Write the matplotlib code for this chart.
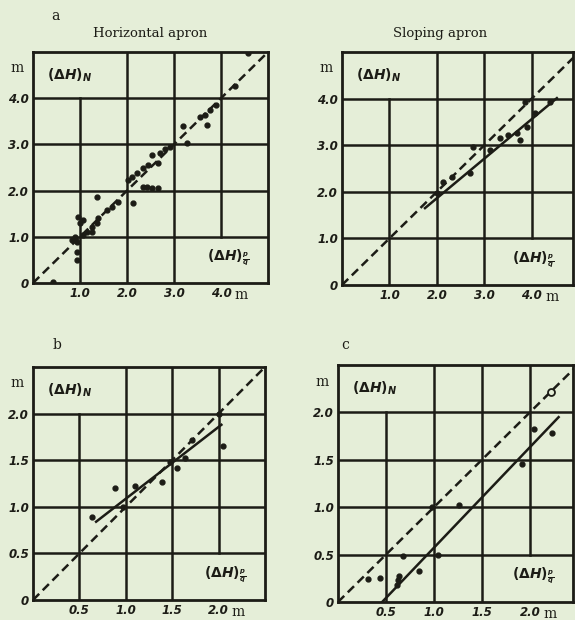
import matplotlib.pyplot as plt

# measured vs computed head difference, metres
horiz_x = [4.58, 4.30, 3.90, 3.77, 3.66, 3.55, 3.19, 3.70, 3.28, 2.91, 2.81, 2.70, 2.53, 2.66,
           2.45, 2.34, 2.21, 2.10, 2.02, 2.43, 2.34, 2.53, 2.66, 2.13, 1.36, 1.81, 1.68, 1.57,
           0.96, 1.06, 1.00, 1.38, 1.36, 1.26, 1.26, 1.15, 1.06, 0.89, 0.83, 0.94, 0.94, 0.94, 0.43]
horiz_y = [4.97, 4.26, 3.85, 3.74, 3.63, 3.59, 3.40, 3.42, 3.03, 2.94, 2.90, 2.81, 2.77, 2.60,
           2.55, 2.49, 2.38, 2.29, 2.23, 2.08, 2.08, 2.06, 2.06, 1.73, 1.86, 1.75, 1.65, 1.58,
           1.43, 1.36, 1.30, 1.41, 1.30, 1.21, 1.10, 1.10, 1.04, 1.00, 0.93, 0.89, 0.50, 0.67, 0.02]

slope_x = [3.85, 4.38, 4.06, 3.89, 3.68, 3.49, 3.33, 3.75, 2.76, 3.12, 2.69, 2.32, 2.13, 2.00]
slope_y = [3.93, 3.93, 3.69, 3.39, 3.26, 3.22, 3.15, 3.11, 2.96, 2.90, 2.40, 2.32, 2.21, 1.97]
slope_fit_x = [1.75, 4.53]
slope_fit_y = [1.65, 4.01]

b_x = [0.64, 0.88, 1.10, 1.39, 1.48, 1.55, 1.64, 1.71, 2.05, 2.00, 0.97]
b_y = [0.89, 1.20, 1.22, 1.27, 1.48, 1.42, 1.52, 1.72, 1.65, 2.00, 1.00]
b_fit_x = [0.68, 2.03]
b_fit_y = [0.84, 1.88]

c_x = [2.04, 2.23, 1.92, 1.26, 0.98, 0.68, 1.04, 0.84, 0.31, 0.44, 0.63, 0.61, 0.64]
c_y = [1.83, 1.78, 1.46, 1.02, 1.00, 0.49, 0.50, 0.33, 0.24, 0.25, 0.23, 0.18, 0.27]
c_open_x = [2.22]
c_open_y = [2.22]
c_fit_x = [0.46, 2.30]
c_fit_y = [0.0, 1.95]

big_ticks = [1.0, 2.0, 3.0, 4.0]
big_labels = ["1.0", "2.0", "3.0", "4.0"]
small_ticks = [0.5, 1.0, 1.5, 2.0]
small_labels = ["0.5", "1.0", "1.5", "2.0"]

paper = "#e5eed8"
ink = "#1c1c16"

plt.rcParams["mathtext.fontset"] = "custom"
plt.rcParams["mathtext.it"] = "DejaVu Sans:italic:bold"
plt.rcParams["mathtext.rm"] = "DejaVu Sans:bold"

fig = plt.figure(figsize=(5.75, 6.2), dpi=100, facecolor=paper)
W, H = 575, 620


def make_ax(left, top, right, bottom):
    return fig.add_axes([left / W, 1 - bottom / H, (right - left) / W, (bottom - top) / H])


def panel(ax, xmax, ymax, ticks, labels, step):
    ax.set_facecolor(paper)
    ax.set_xlim(0, xmax)
    ax.set_ylim(0, ymax)
    for s in ax.spines.values():
        s.set_linewidth(2.0)
        s.set_color(ink)
    # grid, with the two corner lines cut short around the axis labels
    ax.axvline(ticks[0], ymax=4 * step / ymax, color=ink, lw=1.8)
    for t in ticks[1:-1]:
        ax.axvline(t, color=ink, lw=1.8)
    ax.axvline(ticks[-1], ymin=step / ymax, color=ink, lw=1.8)
    for t in ticks:
        ax.axhline(t, color=ink, lw=1.8)
    ax.set_xticks(ticks)
    ax.set_xticklabels(labels)
    ax.set_yticks([0] + ticks)
    ax.set_yticklabels(["0"] + labels)
    ax.tick_params(length=0, pad=3, colors=ink)
    for lab in ax.get_xticklabels() + ax.get_yticklabels():
        lab.set_fontstyle("italic")
        lab.set_fontweight("bold")
        lab.set_fontsize(8.5)
    ax.text(-0.04, 0.93, "m", transform=ax.transAxes, ha="right", va="center",
            family="DejaVu Serif", fontsize=10, color=ink)
    ax.text(ticks[-1] + 0.43 * step, -0.05, "m", transform=ax.get_xaxis_transform(),
            ha="center", va="center", family="DejaVu Serif", fontsize=10, color=ink)
    ax.text(0.06, 0.9, r"$(\Delta H)_N$", transform=ax.transAxes, fontsize=10,
            ha="left", va="center", color=ink)
    ax.text(0.92, 0.11, r"$(\Delta H)_{\frac{p}{q}}$", transform=ax.transAxes, fontsize=10,
            ha="right", va="center", color=ink)
    ax.plot([0, 5], [0, 5], color=ink, lw=1.8, ls=(0, (3.5, 2)))


dot = dict(ls="none", marker="o", ms=3.5, color=ink)

ax1 = make_ax(33, 52, 268, 283)
panel(ax1, 5.0, 5.0, big_ticks, big_labels, 1.0)
ax1.plot(horiz_x, horiz_y, **dot)

ax2 = make_ax(342, 52, 573, 285)
panel(ax2, 4.87, 5.0, big_ticks, big_labels, 1.0)
ax2.plot(slope_fit_x, slope_fit_y, color=ink, lw=1.8)
ax2.plot(slope_x, slope_y, **dot)

ax3 = make_ax(33, 367, 265, 600)
panel(ax3, 2.5, 2.5, small_ticks, small_labels, 0.5)
ax3.plot(b_fit_x, b_fit_y, color=ink, lw=1.8)
ax3.plot(b_x, b_y, **dot)

ax4 = make_ax(338, 365, 573, 602)
panel(ax4, 2.45, 2.5, small_ticks, small_labels, 0.5)
ax4.plot(c_fit_x, c_fit_y, color=ink, lw=1.8)
ax4.plot(c_x, c_y, **dot)
ax4.plot(c_open_x, c_open_y, ls="none", marker="o", ms=5, mfc=paper, mec=ink, mew=1.3)

fig.text(55 / W, 1 - 16 / H, "a", family="DejaVu Serif", fontsize=10, color=ink, ha="center", va="center")
fig.text(150 / W, 1 - 33 / H, "Horizontal apron", family="DejaVu Serif", fontsize=9.5, color=ink,
         ha="center", va="center")
fig.text(440 / W, 1 - 33 / H, "Sloping apron", family="DejaVu Serif", fontsize=9.5, color=ink,
         ha="center", va="center")
fig.text(57 / W, 1 - 345 / H, "b", family="DejaVu Serif", fontsize=10, color=ink, ha="center", va="center")
fig.text(345 / W, 1 - 345 / H, "c", family="DejaVu Serif", fontsize=10, color=ink, ha="center", va="center")

fig.savefig("out.png", dpi=100, facecolor=paper)
